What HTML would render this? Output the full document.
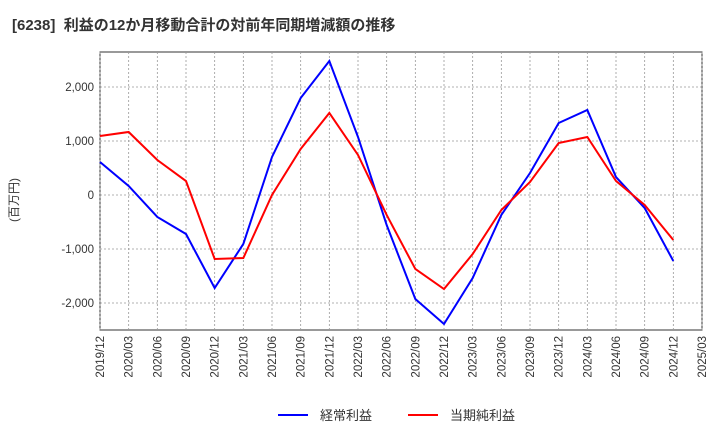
<!DOCTYPE html>
<html><head><meta charset="utf-8"><style>
body{margin:0;background:#fff;width:720px;height:440px;overflow:hidden;font-family:"Liberation Sans","Noto Sans CJK JP",sans-serif}
</style></head><body>
<svg width="720" height="440" xmlns="http://www.w3.org/2000/svg" font-family="Liberation Sans, Noto Sans CJK JP, sans-serif">
<text x="12" y="30" font-size="15" font-weight="bold" fill="#333">[6238]&#160; 利益の12か月移動合計の対前年同期増減額の推移</text>
<text transform="translate(18,200) rotate(-90)" font-size="12" fill="#333" text-anchor="middle">(百万円)</text>
<g id="grid"></g><g id="axes"></g><g id="series"></g>
<g>
<line x1="278" y1="415" x2="308" y2="415" stroke="#0000ff" stroke-width="2"/>
<text x="320" y="420" font-size="13" fill="#333">経常利益</text>
<line x1="408" y1="415" x2="438" y2="415" stroke="#ff0000" stroke-width="2"/>
<text x="450" y="420" font-size="13" fill="#333">当期純利益</text>
</g>
</svg>
<script>
const categories=["2019/12","2020/03","2020/06","2020/09","2020/12","2021/03","2021/06","2021/09","2021/12","2022/03","2022/06","2022/09","2022/12","2023/03","2023/06","2023/09","2023/12","2024/03","2024/06","2024/09","2024/12","2025/03"];
const keijo=[611,167,-407,-722,-1722,-907,704,1796,2481,1074,-556,-1926,-2389,-1537,-370,407,1333,1574,333,-241,-1222];
const junrieki=[1093,1167,648,259,-1185,-1167,0,852,1519,741,-370,-1370,-1741,-1093,-278,241,963,1074,259,-185,-833];
const yTicks=[-2000,-1000,0,1000,2000];
const yTickLabels=["-2,000","-1,000","0","1,000","2,000"];
const L=100,R=702,T=52,B=330,yMin=-2500,yMax=2648;
const ns="http://www.w3.org/2000/svg";
const xs=i=>L+(R-L)*i/(categories.length-1);
const ys=v=>B-(v-yMin)/(yMax-yMin)*(B-T);
function mk(tag,attrs,parent){const e=document.createElementNS(ns,tag);for(const k in attrs)e.setAttribute(k,attrs[k]);parent.appendChild(e);return e;}
const grid=document.getElementById('grid'),axes=document.getElementById('axes'),series=document.getElementById('series');
const bg=mk('rect',{x:L,y:T,width:R-L,height:B-T,fill:'#fff',stroke:'#333'},grid);


categories.forEach((c,i)=>{
 const x=xs(i);
 const g=mk('line',{x1:x,y1:T,x2:x,y2:B,stroke:'#999','stroke-dasharray':'2,2','stroke-width':0.8},grid);
 
 
 const t=mk('text',{transform:`translate(${x+4},${B+6}) rotate(-90)`,'text-anchor':'end','font-size':11.5,fill:'#333'},axes);
 t.textContent=c;
 
 
});
yTicks.forEach((v,i)=>{
 const y=ys(v);
 const g=mk('line',{x1:L,y1:y,x2:R,y2:y,stroke:'#999','stroke-dasharray':'2,2','stroke-width':0.8},grid);
 
 
 const t=mk('text',{x:L-6,y:y+4,'text-anchor':'end','font-size':11.5,fill:'#333'},axes);
 t.textContent=yTickLabels[i];
 
 
});
function line(data,color,name){
 const p=mk('polyline',{points:data.map((v,i)=>xs(i)+','+ys(v)).join(' '),fill:'none',stroke:color,'stroke-width':2},series);
 
 
}
line(keijo,'#0000ff','keijo-line');
line(junrieki,'#ff0000','junrieki-line');
</script>
</body></html>
